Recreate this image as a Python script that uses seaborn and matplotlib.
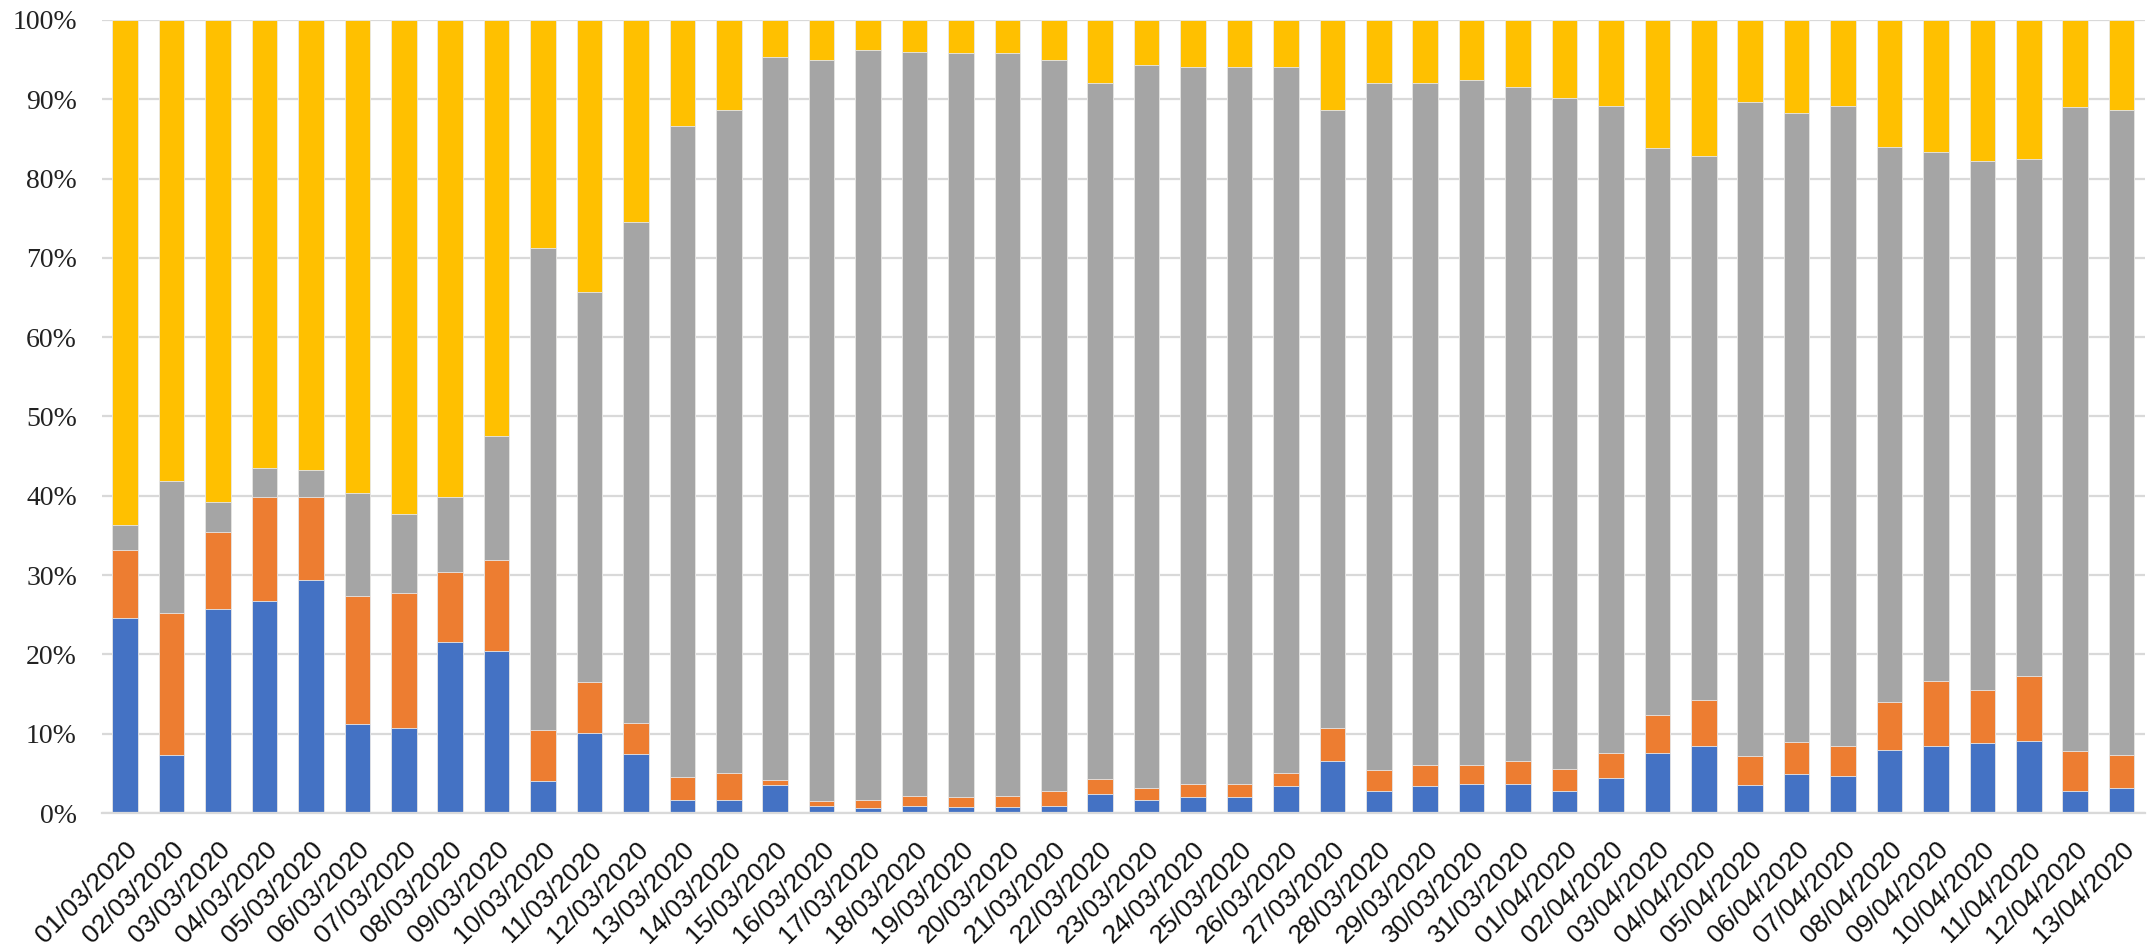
import matplotlib
matplotlib.use("Agg")
import matplotlib.pyplot as plt
import numpy as np
import pandas as pd
import seaborn as sns

# Daily dates, 1 March to 13 April 2020
dates = [f"{d:02d}/03/2020" for d in range(1, 32)] + [f"{d:02d}/04/2020" for d in range(1, 14)]

# Share of each category per day (percent)
blue = [24.6, 7.3, 25.7, 26.7, 29.4, 11.2, 10.7, 21.6, 20.4, 4.0,
        10.1, 7.4, 1.7, 1.6, 3.5, 0.9, 0.6, 0.9, 0.7, 0.7,
        0.9, 2.4, 1.6, 2.0, 2.0, 3.4, 6.5, 2.8, 3.4, 3.6,
        3.7, 2.8, 4.4, 7.6, 8.5, 3.5, 4.9, 4.7, 8.0, 8.4,
        8.8, 9.1, 2.8, 3.2]
orange = [8.6, 17.9, 9.7, 13.2, 10.4, 16.1, 17.1, 8.8, 11.5, 6.5,
          6.4, 3.9, 2.8, 3.4, 0.7, 0.6, 1.0, 1.2, 1.3, 1.4,
          1.9, 1.9, 1.6, 1.6, 1.6, 1.7, 4.2, 2.6, 2.6, 2.5,
          2.8, 2.7, 3.2, 4.8, 5.8, 3.7, 4.0, 3.7, 6.0, 8.3,
          6.7, 8.2, 5.0, 4.1]
gray = [3.1, 16.6, 3.8, 3.6, 3.5, 13.0, 9.9, 9.5, 15.6, 60.7,
        49.2, 63.2, 82.1, 83.6, 91.1, 93.4, 94.6, 93.8, 93.8, 93.7,
        92.1, 87.8, 91.1, 90.4, 90.4, 88.9, 78.0, 86.6, 86.0, 86.3,
        85.1, 84.7, 81.6, 71.4, 68.6, 82.5, 79.3, 80.7, 70.0, 66.6,
        66.7, 65.2, 81.2, 81.3]
yellow = [63.7, 58.2, 60.8, 56.5, 56.7, 59.7, 62.3, 60.1, 52.5, 28.8,
          34.3, 25.5, 13.4, 11.4, 4.7, 5.1, 3.8, 4.1, 4.2, 4.2,
          5.1, 7.9, 5.7, 6.0, 6.0, 6.0, 11.3, 8.0, 8.0, 7.6,
          8.4, 9.8, 10.8, 16.2, 17.1, 10.3, 11.8, 10.9, 16.0, 16.7,
          17.8, 17.5, 11.0, 11.4]

series_names = ["Serie 1", "Serie 2", "Serie 3", "Serie 4"]
series_colors = ["#4472C4", "#ED7D31", "#A5A5A5", "#FFC000"]

df = pd.DataFrame({"date": dates, series_names[0]: blue, series_names[1]: orange,
                   series_names[2]: gray, series_names[3]: yellow})
vals = df[series_names]
pct = vals.div(vals.sum(axis=1), axis=0) * 100
cum = pct.cumsum(axis=1)

sns.set_theme(style="white")
plt.rcParams["font.family"] = ["Liberation Sans", "DejaVu Sans"]

fig = plt.figure(figsize=(21.47, 9.48), dpi=100)
ax = fig.add_axes([0.0475, 0.1424, 0.9515, 0.8366])

# 100% stacked columns: draw cumulative totals from the top layer down
for name, color in reversed(list(zip(series_names, series_colors))):
    sns.barplot(x=df["date"], y=cum[name], color=color, width=0.55,
                saturation=1, edgecolor="#e8e8e8", linewidth=0.6, ax=ax)

ax.set_xlim(-0.5, len(dates) - 0.5)
ax.set_ylim(0, 100)
ax.set_yticks(np.arange(0, 101, 10))
ax.set_yticklabels([f"{v}%" for v in range(0, 101, 10)],
                   fontfamily=["Liberation Serif", "DejaVu Serif"], fontsize=20)
ax.set_xticks(range(len(dates)))
ax.set_xticklabels(dates, rotation=45, ha="right", va="top",
                   rotation_mode="anchor", fontsize=19)
ax.tick_params(axis="y", length=0, pad=18, colors="#222222")
ax.tick_params(axis="x", length=0, pad=17.5, colors="#111111")

ax.set_axisbelow(True)
ax.yaxis.grid(True, color="#d9d9d9", linewidth=1.6)
ax.xaxis.grid(False)
for side in ["top", "left", "right"]:
    ax.spines[side].set_visible(False)
ax.spines["bottom"].set_color("#d9d9d9")
ax.spines["bottom"].set_linewidth(1.6)
ax.set_xlabel("")
ax.set_ylabel("")

fig.savefig("out.png", dpi=100, facecolor="white")
